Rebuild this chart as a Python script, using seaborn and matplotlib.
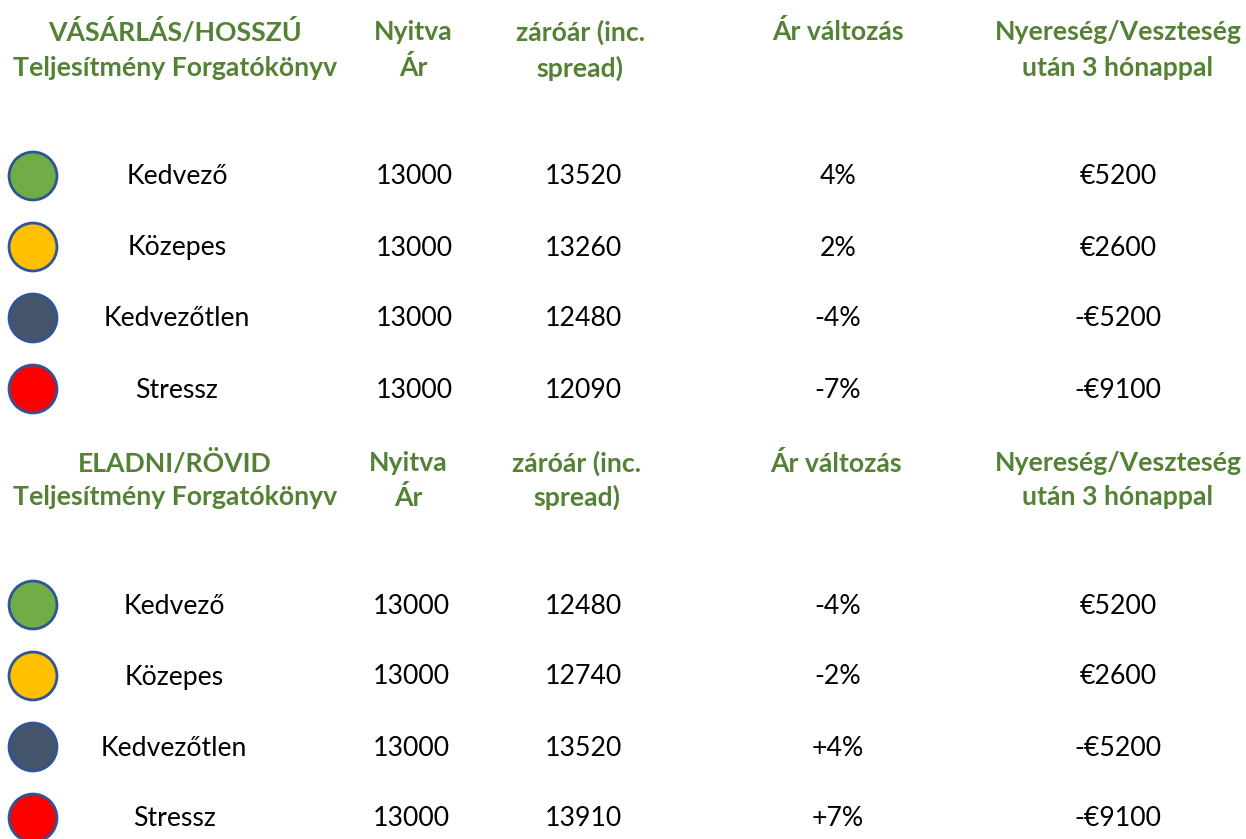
import matplotlib
matplotlib.use("Agg")
import matplotlib.pyplot as plt
import seaborn as sns
import pandas as pd

# ---- data ----
scenarios = ["Kedvező", "Közepes", "Kedvezőtlen", "Stressz"]
dot_colors = ["#70AD47", "#FFC000", "#44546A", "#FF0000"]
buy_open = [13000, 13000, 13000, 13000]
buy_close = [13520, 13260, 12480, 12090]
buy_change = ["4%", "2%", "-4%", "-7%"]
buy_pnl = ["€5200", "€2600", "-€5200", "-€9100"]
sell_open = [13000, 13000, 13000, 13000]
sell_close = [12480, 12740, 13520, 13910]
sell_change = ["-4%", "-2%", "+4%", "+7%"]
sell_pnl = ["€5200", "€2600", "-€5200", "-€9100"]
buy_title = ["VÁSÁRLÁS/HOSSZÚ", "Teljesítmény Forgatókönyv"]
sell_title = ["ELADNI/RÖVID", "Teljesítmény Forgatókönyv"]
col_headers = [["Nyitva", "Ár"], ["záróár (inc.", "spread)"], ["Ár változás"],
               ["Nyereség/Veszteség", "után 3 hónappal"]]

# ---- layout ----
W, H = 1246, 839
sns.set_theme(style="white")
plt.rcParams["font.family"] = ["Lato", "DejaVu Sans"]
fig = plt.figure(figsize=(W / 100, H / 100), dpi=100)
ax = fig.add_axes([0, 0, 1, 1])
ax.set_xlim(0, W)
ax.set_ylim(H, 0)
ax.axis("off")

green = "#548235"
dot_x = 33
label_x = [177, 414, 583, 838, 1118]
head_x = [175, 413, 580, 838, 1118]
sections = [
    dict(title=buy_title, head_y=[32, 68], rows_y=[176, 247, 318, 389],
         cols=[buy_open, buy_close, buy_change, buy_pnl], xoff=[0, 0, 0, 0, 0], hoff=[0, 0, 0, 0, 0]),
    dict(title=sell_title, head_y=[463, 497], rows_y=[605, 676, 747, 818],
         cols=[sell_open, sell_close, sell_change, sell_pnl], xoff=[-3, -3, 0, 0, 0], hoff=[0, -5, -3, -2, 0]),
]
fs = 19.2
for sec in sections:
    heads = [sec["title"]] + col_headers
    for j, (hx, h) in enumerate(zip(head_x, heads)):
        for k, line in enumerate(h):
            ax.text(hx + sec["hoff"][j], sec["head_y"][k], line, ha="center", va="center",
                    fontsize=fs, fontweight="bold", color=green)
    df = pd.DataFrame({"x": [dot_x] * 4, "y": sec["rows_y"], "s": scenarios})
    sns.scatterplot(data=df, x="x", y="y", hue="s", palette=dict(zip(scenarios, dot_colors)),
                    s=1190, edgecolor="#2F5597", linewidth=2, legend=False, ax=ax, clip_on=False)
    for i, y in enumerate(sec["rows_y"]):
        vals = [scenarios[i]] + [str(c[i]) for c in sec["cols"]]
        for j, v in enumerate(vals):
            ax.text(label_x[j] + sec["xoff"][j], y + 1, v, ha="center", va="center",
                    fontsize=fs, color="black")
ax.set_xlim(0, W)
ax.set_ylim(H, 0)
ax.set_xlabel("")
ax.set_ylabel("")
fig.savefig("out.png", dpi=100)
